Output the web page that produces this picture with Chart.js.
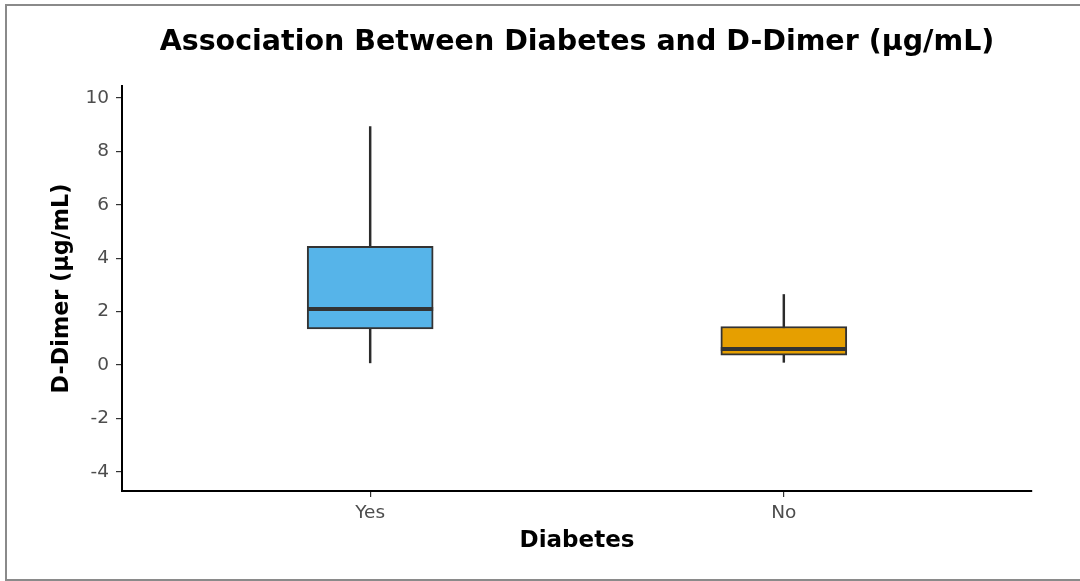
<!DOCTYPE html>
<html>
<head>
<meta charset="utf-8">
<script src="https://cdn.jsdelivr.net/npm/chart.js@4/dist/chart.umd.min.js"></script>
<style>
  html, body { margin: 0; padding: 0; background: #fff; overflow: hidden; }
  #wrap { position: relative; width: 1080px; height: 581px; }
  #frame { position: absolute; left: 5px; top: 4px; width: 1100px; height: 573px;
           border-top: 2px solid #8a8a8a; border-left: 2px solid #8a8a8a; border-bottom: 2px solid #8a8a8a; pointer-events: none; }
  canvas { position: absolute; left: 0; top: 0; }
</style>
</head>
<body>
<div id="wrap">
  <canvas id="c" width="1080" height="581"></canvas>
  <div id="frame"></div>
</div>
<script>
// ---- Data ----
const categories = ['Yes', 'No'];
const positions = [1, 2];
const whiskerLow = [0.08, 0.1];
const q1 = [1.35, 0.37];
const median = [2.1, 0.6];
const q3 = [4.44, 1.44];
const whiskerHigh = [8.93, 2.64];
const boxColors = ['#56B4E9', '#E69F00'];
const yTickStep = 2;

const boxData = positions.map((p, i) => ({ x: p, y: [q1[i], q3[i]] }));
const whiskerData = positions.map((p, i) => ({ x: p, y: [whiskerLow[i], whiskerHigh[i]] }));

const medianPlugin = {
  id: 'medianLines',
  afterDatasetsDraw(chart) {
    const meta = chart.getDatasetMeta(0);
    const ys = chart.scales.y;
    const ctx = chart.ctx;
    ctx.save();
    ctx.strokeStyle = '#333333';
    ctx.lineWidth = 4;
    meta.data.forEach((el, i) => {
      const y = ys.getPixelForValue(median[i]);
      ctx.beginPath();
      ctx.moveTo(el.x - el.width / 2, y);
      ctx.lineTo(el.x + el.width / 2, y);
      ctx.stroke();
    });
    ctx.restore();
  }
};

Chart.defaults.font.family = "'DejaVu Sans', sans-serif";

new Chart(document.getElementById('c'), {
  type: 'bar',
  data: {
    datasets: [
      {
        label: 'IQR',
        data: boxData,
        backgroundColor: boxColors,
        borderColor: '#333333',
        borderWidth: 2,
        borderSkipped: false,
        barThickness: 126,
        grouped: false,
        order: 0
      },
      {
        label: 'Whiskers',
        data: whiskerData,
        backgroundColor: '#2b2b2b',
        borderWidth: 0,
        barThickness: 1.8,
        grouped: false,
        order: 1
      }
    ]
  },
  plugins: [medianPlugin],
  options: {
    responsive: false,
    animation: false,
    events: [],
    layout: { padding: { left: 0, right: 48, top: 0, bottom: 0 } },
    plugins: {
      legend: { display: false },
      tooltip: { enabled: false },
      title: {
        display: true,
        fullSize: false,
        text: 'Association Between Diabetes and D-Dimer (µg/mL)',
        color: '#000000',
        font: { size: 28.5, weight: 'bold' },
        padding: { top: 25.9, bottom: 25.9 }
      }
    },
    scales: {
      x: {
        type: 'linear',
        min: 0.4,
        max: 2.6,
        offset: false,
        afterFit(scale) { scale.height = 90; },
        grid: { display: true, offset: false, drawOnChartArea: false, drawTicks: true, tickLength: 6, color: '#333333', lineWidth: 1.2 },
        border: { display: true, color: '#000000', width: 2 },
        ticks: {
          stepSize: 1,
          includeBounds: false,
          padding: 5,
          color: '#4d4d4d',
          font: { size: 18.5 },
          callback: (v) => categories[positions.indexOf(v)] ?? ''
        },
        title: {
          display: true,
          text: 'Diabetes',
          color: '#000000',
          font: { size: 23, weight: 'bold' },
          padding: { top: 0, bottom: 26.2 }
        }
      },
      y: {
        type: 'linear',
        min: -4.72,
        max: 10.45,
        afterFit(scale) { scale.width = 122; },
        grid: { display: true, drawOnChartArea: false, drawTicks: true, tickLength: 6, color: '#333333', lineWidth: 1.2 },
        border: { display: true, color: '#000000', width: 2 },
        ticks: {
          stepSize: yTickStep,
          includeBounds: false,
          padding: 7,
          color: '#4d4d4d',
          font: { size: 18.5 }
        },
        title: {
          display: true,
          text: 'D-Dimer (µg/mL)',
          color: '#000000',
          font: { size: 22.3, weight: 'bold' },
          padding: { top: 48.6, bottom: 0 }
        }
      }
    }
  }
});
</script>
</body>
</html>
